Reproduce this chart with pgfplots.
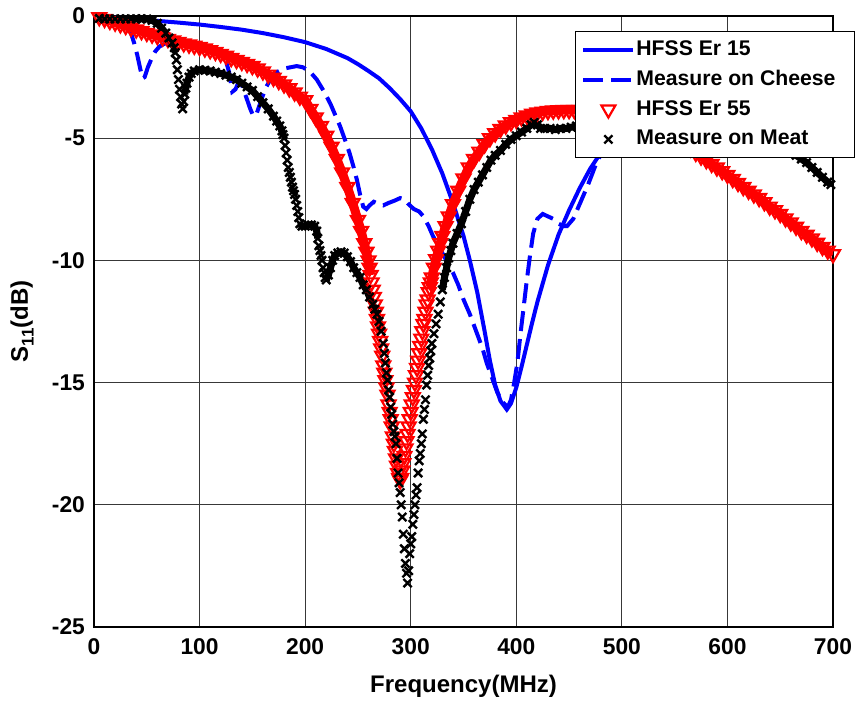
\documentclass[border=0pt]{standalone}
\usepackage{fontspec}
\setmainfont{Liberation Sans}
\usepackage{pgfplots}
\usepackage{pgfplotstable}
\pgfplotsset{compat=1.18}
\pgfplotstableread{
f s
6 0
20 -0.05
40 -0.12
60 -0.2
80 -0.27
100 -0.35
120 -0.45
140 -0.56
160 -0.7
180 -0.87
200 -1.07
220 -1.35
240 -1.72
250 -1.97
260 -2.25
270 -2.55
280 -2.95
290 -3.4
300 -3.9
310 -4.6
320 -5.45
330 -6.45
340 -7.65
350 -9.0
356 -10.0
363 -11.3
370 -12.9
375 -14.1
380 -15.1
385 -15.75
391 -16.1
395 -15.85
400 -15.2
405 -14.35
410 -13.45
415 -12.55
420 -11.7
430 -10.2
440 -8.95
450 -7.95
460 -7.05
470 -6.25
480 -5.6
490 -5.05
500 -4.6
520 -3.9
540 -3.45
560 -3.2
580 -3.05
600 -3.0
620 -3.05
640 -3.15
660 -3.3
680 -3.5
700 -3.7
}\hfsslow
\pgfplotstableread{
f s
6 0
15 -0.1
25 -0.25
30 -0.4
35 -0.7
38 -1.1
41 -1.6
44 -2.2
46 -2.55
48 -2.5
51 -2.1
55 -1.7
58 -1.45
62 -1.25
66 -1.15
72 -1.05
80 -1.05
90 -1.1
100 -1.2
110 -1.35
118 -1.5
124 -1.7
128 -2.3
131 -3.1
134 -3.0
137 -2.7
140 -2.8
144 -3.3
148 -3.8
151 -4.1
154 -4.0
158 -3.5
162 -3.0
167 -2.6
173 -2.3
180 -2.15
186 -2.1
192 -2.05
198 -2.1
205 -2.3
211 -2.6
218 -3.1
224 -3.6
229 -4.1
233 -4.5
238 -5.1
242 -5.6
246 -6.2
249 -6.7
252 -7.3
255 -7.8
258 -7.9
261 -7.75
265 -7.6
270 -7.7
274 -7.75
279 -7.65
285 -7.55
290 -7.45
294 -7.5
298 -7.7
303 -7.9
308 -8.0
312 -8.2
317 -8.6
321 -9.0
325 -9.3
330 -9.7
335 -10.1
340 -10.5
345 -11.0
350 -11.6
356 -12.2
362 -12.9
368 -13.6
372 -14.2
377 -14.8
382 -15.4
387 -15.8
392 -16.0
395 -15.7
398 -15.0
401 -14.2
404 -13.0
407 -11.9
410 -10.8
413 -9.8
416 -8.9
420 -8.3
425 -8.1
430 -8.2
435 -8.3
440 -8.5
445 -8.6
448 -8.6
451 -8.45
454 -8.3
458 -7.9
463 -7.4
468 -6.9
472 -6.45
476 -6.0
481 -5.6
486 -5.2
492 -4.85
500 -4.5
515 -4.1
530 -3.9
550 -3.8
580 -3.75
610 -3.8
640 -3.95
670 -4.2
700 -4.5
}\cheese
\pgfplotstableread{
f s
5 -0.05
10 -0.12
15 -0.2
20 -0.27
25 -0.34
30 -0.41
35 -0.48
40 -0.55
45 -0.62
50 -0.69
55 -0.76
60 -0.82
65 -0.88
70 -0.94
75 -1.0
80 -1.06
85 -1.12
90 -1.17
95 -1.22
100 -1.27
105 -1.33
110 -1.4
115 -1.47
120 -1.55
125 -1.63
130 -1.72
135 -1.8
140 -1.88
145 -1.96
150 -2.05
155 -2.15
160 -2.27
165 -2.4
170 -2.53
175 -2.66
180 -2.8
185 -2.96
190 -3.13
195 -3.3
200 -3.45
205 -3.8
210 -4.15
215 -4.5
220 -4.9
225 -5.35
230 -5.85
235 -6.4
240 -7.0
245 -7.65
250 -8.35
253 -8.8
256 -9.3
258 -9.65
260 -10.0
261 -10.3
262 -10.6
263 -10.9
264 -11.2
265 -11.5
266 -11.8
267 -12.1
268 -12.4
269 -12.7
270 -13.0
271 -13.3
272 -13.6
273 -13.9
274 -14.3
275 -14.6
276 -14.9
277 -15.2
278 -15.5
279 -15.9
280 -16.2
281 -16.5
282 -16.8
283 -17.2
284 -17.5
285 -17.8
286 -18.1
287 -18.4
288 -18.7
289 -18.9
290 -19.0
291 -18.9
292 -18.6
293 -18.3
294 -18.0
295 -17.7
296 -17.4
297 -17.1
298 -16.8
299 -16.5
300 -16.2
301 -15.9
302 -15.6
303 -15.3
304 -15.0
305 -14.7
306 -14.4
307 -14.1
308 -13.8
309 -13.5
310 -13.2
311 -12.9
312 -12.6
313 -12.4
314 -12.1
315 -11.8
316 -11.6
317 -11.3
318 -11.1
319 -10.9
320 -10.7
322 -10.3
324 -9.95
326 -9.6
328 -9.3
330 -9.0
333 -8.6
336 -8.2
340 -7.7
345 -7.15
350 -6.65
355 -6.2
360 -5.85
365 -5.55
370 -5.25
375 -5.0
380 -4.8
385 -4.62
390 -4.48
395 -4.35
400 -4.25
405 -4.15
410 -4.07
415 -4.0
420 -3.95
425 -3.92
430 -3.89
435 -3.87
440 -3.86
445 -3.85
450 -3.85
455 -3.85
460 -3.85
470 -3.85
480 -3.85
490 -3.87
500 -3.9
510 -4.0
520 -4.15
530 -4.35
540 -4.6
550 -4.9
560 -5.25
565 -5.42
570 -5.6
575 -5.75
580 -5.9
585 -6.05
590 -6.2
595 -6.35
600 -6.5
605 -6.67
610 -6.83
615 -7.0
620 -7.15
625 -7.3
630 -7.45
635 -7.62
640 -7.8
645 -7.95
650 -8.1
655 -8.28
660 -8.45
665 -8.62
670 -8.8
675 -8.95
680 -9.1
685 -9.28
690 -9.45
695 -9.6
700 -9.75
}\hfsshigh
\pgfplotstableread{
f s
5 -0.1
10 -0.12
15 -0.12
20 -0.12
25 -0.12
30 -0.12
35 -0.12
40 -0.12
45 -0.12
50 -0.12
55 -0.18
60 -0.3
64 -0.5
68 -0.7
71 -0.9
74 -1.1
76 -1.3
77 -1.5
78 -1.8
79 -2.2
80 -2.6
81 -3.0
82 -3.3
83 -3.6
84 -3.8
85 -3.5
86 -3.2
87 -2.95
88 -2.75
90 -2.5
92 -2.35
95 -2.25
100 -2.2
105 -2.22
110 -2.25
115 -2.3
120 -2.35
125 -2.42
130 -2.5
135 -2.6
140 -2.75
145 -2.9
150 -3.05
155 -3.3
160 -3.55
165 -3.8
170 -4.1
173 -4.3
176 -4.5
178 -4.7
179 -4.85
180 -5.0
181 -5.3
182 -5.6
183 -5.9
184 -6.2
185 -6.4
186 -6.6
187 -6.8
188 -7.0
189 -7.15
190 -7.3
191 -7.5
192 -7.75
193 -8.0
194 -8.25
195 -8.5
197 -8.6
200 -8.6
203 -8.55
206 -8.55
209 -8.6
211 -8.8
212 -9.1
213 -9.4
214 -9.6
215 -9.8
216 -10.0
217 -10.3
218 -10.5
219 -10.7
220 -10.8
222 -10.6
224 -10.3
226 -10.0
228 -9.8
231 -9.7
234 -9.65
237 -9.7
240 -9.85
243 -10.05
246 -10.3
249 -10.5
252 -10.7
255 -11.0
258 -11.2
261 -11.5
264 -11.8
266 -12.0
268 -12.2
270 -12.5
272 -12.9
274 -13.4
275 -13.8
276 -14.2
277 -14.6
278 -14.9
279 -15.3
280 -15.6
281 -16.0
282 -16.3
283 -16.7
284 -17.0
285 -17.2
286 -17.5
287 -18.1
288 -18.7
289 -19.1
290 -19.5
291 -20.0
292 -20.5
293 -21.2
294 -21.8
295 -22.4
296 -22.8
297 -23.2
298 -22.7
299 -22.0
300 -21.6
301 -21.3
302 -20.8
303 -20.4
304 -20.0
305 -19.6
306 -19.3
307 -18.7
308 -18.2
309 -17.9
310 -17.5
311 -17.1
312 -16.5
313 -16.1
314 -15.7
315 -15.1
316 -14.7
317 -14.3
318 -14.0
319 -13.7
320 -13.4
322 -13.0
324 -12.6
326 -12.2
328 -11.7
330 -11.2
332 -10.7
334 -10.3
336 -9.9
338 -9.6
340 -9.3
344 -8.9
348 -8.5
352 -8.0
356 -7.5
360 -7.1
364 -6.8
368 -6.5
372 -6.2
376 -5.9
380 -5.7
385 -5.5
390 -5.25
395 -5.05
400 -4.9
405 -4.75
410 -4.6
414 -4.45
417 -4.35
420 -4.45
423 -4.6
427 -4.6
432 -4.6
437 -4.65
442 -4.6
447 -4.6
452 -4.55
457 -4.5
462 -4.45
470 -4.4
480 -4.4
490 -4.4
500 -4.4
510 -4.45
520 -4.45
530 -4.5
540 -4.5
550 -4.55
560 -4.6
570 -4.7
580 -4.8
590 -4.9
600 -5.0
610 -5.1
620 -5.2
630 -5.3
640 -5.4
650 -5.5
655 -5.55
660 -5.6
665 -5.7
670 -5.85
675 -6.0
680 -6.2
685 -6.4
690 -6.6
695 -6.8
698 -6.9
}\meat
\begin{document}
\begin{tikzpicture}
\begin{axis}[
 scale only axis, width=369.5pt, height=305.5pt,
 xmin=0, xmax=700, ymin=-25, ymax=0,
 xtick={0,100,...,700}, ytick={-25,-20,...,0},
 grid=major, major grid style={line width=0.5pt, draw=black!78},
 axis line style={line width=0.6pt, black},
 tick align=inside, major tick length=0pt,
 /pgf/number format/assume math mode=true,
 tick label style={font=\fontsize{11.4}{12}\selectfont\bfseries},
 xticklabel style={yshift=-2pt},
 yticklabel style={xshift=-1pt},
 xlabel={Frequency(MHz)},
 ylabel={S\raisebox{-0.45ex}{\fontsize{8.5}{9}\selectfont 11}(dB)},
 label style={font=\fontsize{12}{13}\selectfont\bfseries},
 xlabel style={at={(axis description cs:0.5,-0.067)}, anchor=north},
 ylabel style={at={(axis description cs:-0.0974,0.5)}, anchor=center},
 legend style={at={(1.0298,0.9755)}, anchor=north east, draw=black, line width=0.5pt, fill=white,
   font=\fontsize{10.6}{12}\selectfont\bfseries, inner xsep=3pt, inner ysep=4pt, row sep=4.4pt,
   cells={anchor=west}, nodes={inner sep=0pt, text height=8pt, text depth=2.5pt},
   /tikz/every odd column/.append style={column sep=0.5pt}},
 legend image code/.code={\draw[mark repeat=2,mark phase=2,#1] plot coordinates {(0pt,0pt) (12.5pt,0pt) (25pt,0pt)};},
]
\coordinate (bl) at (rel axis cs:0,0);
\coordinate (tr) at (rel axis cs:1,1);
\addplot[blue, line width=2pt, no marks] table[x=f,y=s] {\hfsslow};
\addlegendentry{HFSS Er 15}
\addplot[blue, line width=2pt, no marks, dash pattern=on 10pt off 4pt] table[x=f,y=s] {\cheese};
\addlegendentry{Measure on Cheese\hspace{6.5pt}\mbox{}}
% dense red band (same data) where the markers overlap
\addplot[forget plot, red, line width=4.5pt, no marks, line join=round, restrict x to domain=0:262] table[x=f,y=s] {\hfsshigh};
\addplot[forget plot, red, line width=4.5pt, no marks, line join=round, restrict x to domain=318:700] table[x=f,y=s] {\hfsshigh};
\addplot[red, only marks, mark=triangle, mark size=4pt, line width=1.1pt, mark options={rotate=180}] table[x=f,y=s] {\hfsshigh};
\addlegendentry{HFSS Er 55}
% dense black band (same data) where the markers overlap
\addplot[forget plot, black, line width=3.5pt, no marks, line join=round, restrict x to domain=0:77] table[x=f,y=s] {\meat};
\addplot[forget plot, black, line width=3.5pt, no marks, line join=round, restrict x to domain=86:179] table[x=f,y=s] {\meat};
\addplot[forget plot, black, line width=3.5pt, no marks, line join=round, restrict x to domain=195:212] table[x=f,y=s] {\meat};
\addplot[forget plot, black, line width=3.5pt, no marks, line join=round, restrict x to domain=220:272] table[x=f,y=s] {\meat};
\addplot[forget plot, black, line width=3.5pt, no marks, line join=round, restrict x to domain=330:700] table[x=f,y=s] {\meat};
\addplot[black, only marks, mark=x, mark size=2.9pt, line width=1.2pt] table[x=f,y=s] {\meat};
\addlegendentry{Measure on Meat}
\end{axis}
\pgfresetboundingbox
\path[use as bounding box] ([xshift=-47pt,yshift=-36.5pt]bl) rectangle ([xshift=11.5pt,yshift=8pt]tr);
\end{tikzpicture}
\end{document}
